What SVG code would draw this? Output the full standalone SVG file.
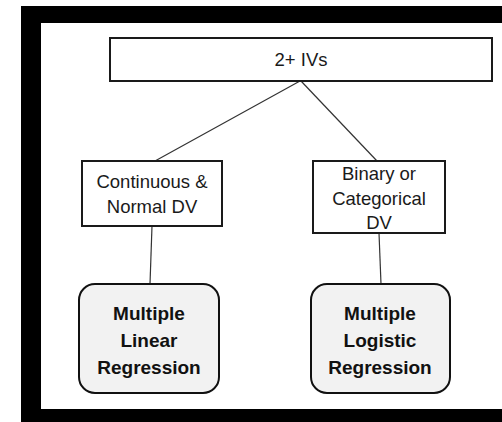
<svg xmlns="http://www.w3.org/2000/svg" width="502" height="422" viewBox="0 0 502 422">
<style>
.box{fill:#fff;stroke:#1a1a1a;stroke-width:2}
.rbox{fill:#f2f2f2;stroke:#111;stroke-width:2}
.t{font-family:"Liberation Sans",Arial,sans-serif;font-size:18.5px;fill:#1a1a1a;text-anchor:middle}
.b{font-family:"Liberation Sans",Arial,sans-serif;font-size:19px;font-weight:bold;fill:#111;text-anchor:middle}
.c{stroke:#333;stroke-width:1.2;fill:none}
</style>
<rect width="502" height="422" fill="#fff"/>
<g id="frame">
<path d="M21 6H520V440H21Z M41 23V409H520V23Z" fill="#000" fill-rule="evenodd"/>
</g>
<g id="connectors">
<line class="c" x1="300" y1="81" x2="155" y2="161"/>
<line class="c" x1="301" y1="81" x2="377" y2="161"/>
<line class="c" x1="152" y1="226" x2="150" y2="284"/>
<line class="c" x1="379" y1="233" x2="381" y2="284"/>
</g>
<g id="ivs">
<rect class="box" x="110" y="38" width="382" height="43"/>
<text class="t" x="301" y="66">2+ IVs</text>
</g>
<g id="continuous">
<rect class="box" x="82" y="161" width="140" height="65"/>
<text class="t" x="152" y="188">Continuous &amp;</text>
<text class="t" x="152" y="213">Normal DV</text>
</g>
<g id="binary">
<rect class="box" x="313" y="161" width="132" height="72"/>
<text class="t" x="379" y="180">Binary or</text>
<text class="t" x="379" y="205">Categorical</text>
<text class="t" x="379" y="229">DV</text>
</g>
<g id="mlr">
<rect class="rbox" x="79" y="284" width="140" height="109" rx="16"/>
<text class="b" x="149" y="320">Multiple</text>
<text class="b" x="149" y="347">Linear</text>
<text class="b" x="149" y="374">Regression</text>
</g>
<g id="mlogr">
<rect class="rbox" x="311" y="284" width="139" height="109" rx="16"/>
<text class="b" x="380" y="320">Multiple</text>
<text class="b" x="380" y="347">Logistic</text>
<text class="b" x="380" y="374">Regression</text>
</g>
</svg>
